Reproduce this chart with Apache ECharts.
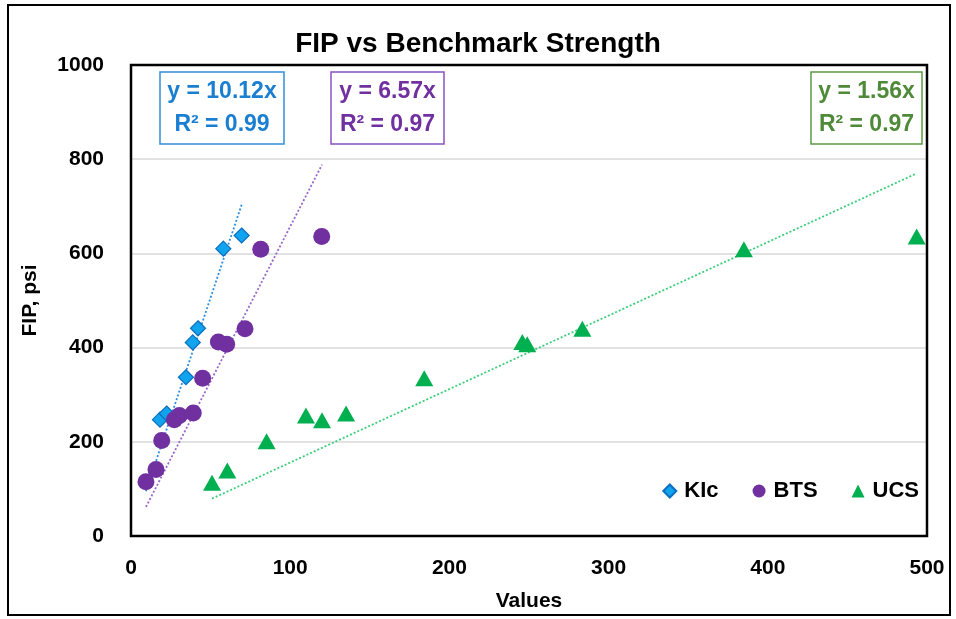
<!DOCTYPE html>
<html>
<head>
<meta charset="utf-8">
<script src="https://cdn.jsdelivr.net/npm/echarts@6/dist/echarts.min.js"></script>
<style>
html,body{margin:0;padding:0;background:#fff;}
#c{width:956px;height:619px;}
</style>
</head>
<body>
<div id="c"></div>
<script>
// Data
const kicX = [18.2, 22.4, 34.5, 38.8, 42.1, 58.0, 69.5];
const kicY = [247, 260, 337, 411, 441, 610, 638];
const btsX = [9.4, 15.7, 19.3, 27.2, 30.4, 39.1, 45.0, 54.9, 60.1, 71.6, 81.5, 119.8];
const btsY = [115, 141, 203, 247, 256, 261, 335, 412, 407, 440, 609, 636];
const ucsX = [50.9, 60.5, 85.2, 109.9, 120.0, 135.1, 184.2, 245.8, 248.9, 283.5, 385.0, 493.5];
const ucsY = [113, 139, 201, 256, 246, 260, 335, 412, 407, 440, 609, 636];
// Trendlines (through origin): slope and x-range drawn
const trendSlopes = [10.12, 6.57, 1.56];
const trendRanges = [[9.4, 69.5], [9.4, 120], [50.9, 493.5]];
const trendLabels = [["y = 10.12x", "R\u00b2 = 0.99"], ["y = 6.57x", "R\u00b2 = 0.97"], ["y = 1.56x", "R\u00b2 = 0.97"]];
const seriesNames = ["KIc", "BTS", "UCS"];
const xTicks = [0, 100, 200, 300, 400, 500];
const yTicks = [0, 200, 400, 600, 800, 1000];

const F = "'Liberation Sans', Arial, sans-serif";
const zip = (a, b) => a.map((v, i) => [v, b[i]]);
const trendData = i => trendRanges[i].map(x => [x, +(trendSlopes[i] * x).toFixed(2)]);

const chart = echarts.init(document.getElementById('c'), null, {renderer: 'canvas'});
const G = {left: 131, top: 65, right: 29, bottom: 83};
const boxes = [
  {x: 160, w: 124, color: '#1a7fd0', stroke: '#2f8fdc'},
  {x: 331, w: 113, color: '#7030a0', stroke: '#8a50c0'},
  {x: 811, w: 111, color: '#4e8a38', stroke: '#5a9a45'}
];
const graphics = [{
  type: 'rect', shape: {x: 8, y: 5, width: 942, height: 610},
  style: {fill: 'none', stroke: '#000', lineWidth: 2}, silent: true, z: 0
}, {
  type: 'rect', shape: {x: G.left, y: G.top, width: 956 - G.left - G.right, height: 619 - G.top - G.bottom},
  style: {fill: 'none', stroke: '#000', lineWidth: 2.5}, silent: true, z: 100
}];
boxes.forEach((b, i) => {
  graphics.push({
    type: 'rect', shape: {x: b.x, y: 72, width: b.w, height: 72},
    style: {fill: '#fff', stroke: b.stroke, lineWidth: 1.5}, z: 10
  });
  graphics.push({
    type: 'text', x: b.x + b.w / 2, y: 108, z: 11,
    style: {
      text: trendLabels[i].join('\n'), fill: b.color, font: 'bold 23px ' + F,
      align: 'center', verticalAlign: 'middle', lineHeight: 33
    }
  });
});

chart.setOption({
  animation: false,
  backgroundColor: '#fff',
  title: {
    text: 'FIP vs Benchmark Strength', left: 'center', top: 25,
    textStyle: {fontFamily: F, fontWeight: 'bold', fontSize: 28, color: '#000'}
  },
  grid: {left: G.left, right: G.right, top: G.top, bottom: G.bottom},
  legend: {
    data: seriesNames, right: 32, top: 475, itemGap: 34, itemWidth: 13, itemHeight: 13,
    textStyle: {fontFamily: F, fontWeight: 'bold', fontSize: 22, color: '#000', padding: [0, 0, 0, 3]}
  },
  xAxis: {
    type: 'value', min: xTicks[0], max: xTicks[xTicks.length - 1], interval: 100,
    name: 'Values', nameLocation: 'middle', nameGap: 55,
    nameTextStyle: {fontFamily: F, fontWeight: 'bold', fontSize: 21, color: '#000'},
    axisLine: {show: false}, axisTick: {show: false}, splitLine: {show: false},
    axisLabel: {fontFamily: F, fontWeight: 'bold', fontSize: 21, color: '#000', margin: 22, formatter: v => String(v)}
  },
  yAxis: {
    type: 'value', min: yTicks[0], max: yTicks[yTicks.length - 1], interval: 200,
    name: 'FIP, psi', nameLocation: 'middle', nameGap: 90,
    nameTextStyle: {fontFamily: F, fontWeight: 'bold', fontSize: 21, color: '#000'},
    axisLine: {show: false}, axisTick: {show: false},
    splitLine: {lineStyle: {color: '#d9d9d9', width: 1.5}},
    axisLabel: {fontFamily: F, fontWeight: 'bold', fontSize: 21, color: '#000', margin: 27, formatter: v => String(v)}
  },
  graphic: graphics,
  series: [
    {name: 'KIc-trend', type: 'line', data: trendData(0), showSymbol: false, symbol: 'none', silent: true,
     lineStyle: {color: '#2e8fe0', width: 1.8, type: [2, 2]}, z: 1},
    {name: 'BTS-trend', type: 'line', data: trendData(1), showSymbol: false, symbol: 'none', silent: true,
     lineStyle: {color: '#9a66cc', width: 1.8, type: [2, 2]}, z: 1},
    {name: 'UCS-trend', type: 'line', data: trendData(2), showSymbol: false, symbol: 'none', silent: true,
     lineStyle: {color: '#3ccf7a', width: 1.8, type: [2, 2]}, z: 1},
    {name: 'KIc', type: 'scatter', data: zip(kicX, kicY), symbol: 'diamond', symbolSize: 15,
     itemStyle: {color: '#10a4ee', borderColor: '#0a6fc0', borderWidth: 1.2, opacity: 1}, z: 3},
    {name: 'BTS', type: 'scatter', data: zip(btsX, btsY), symbol: 'circle', symbolSize: 17,
     itemStyle: {color: '#7030a0', opacity: 1}, z: 4},
    {name: 'UCS', type: 'scatter', data: zip(ucsX, ucsY), symbol: 'triangle', symbolSize: [18, 16],
     itemStyle: {color: '#00b050', opacity: 1}, z: 4}
  ]
});
</script>
</body>
</html>
